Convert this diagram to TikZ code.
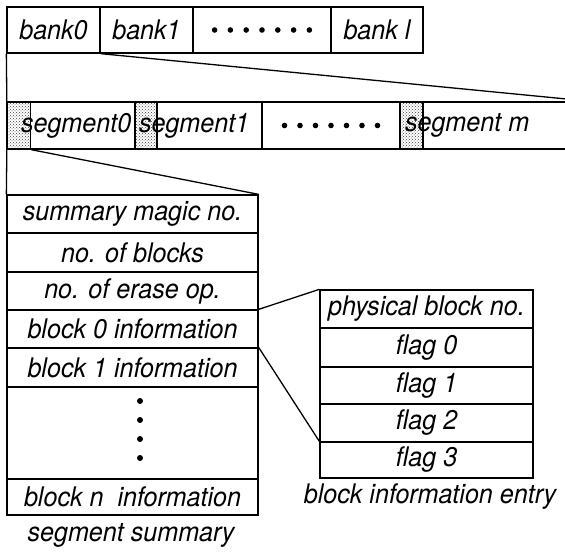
\documentclass[tikz,border=0pt]{standalone}
\usepackage{fontspec}
\setmainfont[FakeStretch=0.93]{TeX Gyre Heros}
\usetikzlibrary{patterns}
\begin{document}
\begin{tikzpicture}[x=1pt,y=-1pt,line width=1.3pt,
    font=\fontsize{27}{29}\selectfont\itshape,
    cell/.style={draw,inner sep=0pt,minimum height=38pt},
    hdr/.style={draw,inner sep=0pt,pattern=crosshatch dots,pattern color=black!75,
      minimum width=23pt,minimum height=47pt},
    txt/.style={inner sep=0pt}]
  \useasboundingbox (0,0) rectangle (565,552);
  \clip (0,0) rectangle (565,552);

  % banks
  \draw
    (53.5,30) node[cell,minimum width=93pt,minimum height=46pt] (bank0){bank0}
    (146.5,30) node[cell,minimum width=93pt,minimum height=46pt] (bank1){bank1}
    (262,30) node[cell,minimum width=138pt,minimum height=46pt] (bankdots){}
    (377,30) node[cell,minimum width=92pt,minimum height=46pt] (bankl){bank l};

  % segments, stippled part = segment header
  \draw
    (19,125.5) node[hdr] (hdr0){}
    (146,125.5) node[hdr,minimum width=22pt] (hdr1){}
    (411.5,125.5) node[hdr] (hdrm){}
    (71,125.5) node[cell,minimum width=128pt,minimum height=47pt] (seg0){}
    (198.5,125.5) node[cell,minimum width=127pt,minimum height=47pt] (seg1){}
    (331,125.5) node[cell,minimum width=138pt,minimum height=47pt] (segdots){}
    (495,125.5) node[cell,minimum width=190pt,minimum height=47pt] (segm){};
  \draw
    ([xshift=14pt]seg0.west) node[txt,anchor=west] (seg0txt){segment0}
    ([xshift=4pt]seg1.west) node[txt,anchor=west] (seg1txt){segment1}
    ([xshift=5pt]segm.west) node[txt,anchor=west] (segmtxt){segment m};

  \foreach \k in {-3,...,3} {
    \fill ([xshift=\k*15.8pt]bankdots.center) circle (2.8pt);
    \fill ([xshift=\k*15.5pt]segdots.center) circle (2.8pt);
  }

  % segment summary
  \draw
    (132.5,214) node[cell,minimum width=251pt] (magic){summary magic no.}
    (132.5,252.5) node[cell,minimum width=251pt,minimum height=39pt] (nblocks){no. of blocks}
    (132.5,291) node[cell,minimum width=251pt] (nerase){no. of erase op.}
    (132.5,329) node[cell,minimum width=251pt] (blk0){block 0 information}
    (132.5,367.5) node[cell,minimum width=251pt,minimum height=39pt] (blk1){block 1 information}
    (132.5,433) node[cell,minimum width=251pt,minimum height=92pt] (blkdots){}
    (132.5,497) node[cell,minimum width=251pt,minimum height=36pt] (blkn){block n\ \ information}
    (131,535) node[txt] (sumlabel){segment summary};
  \foreach \k in {0,...,3}
    \fill ([xshift=7.5pt,yshift={(32-19*\k)*1pt}]blkdots.center) circle (3pt);

  % block information entry
  \draw
    (426.5,309) node[cell,minimum width=213pt] (phys){physical block no.}
    (426.5,347.5) node[cell,minimum width=213pt,minimum height=39pt] (flag0){flag 0}
    (426.5,385.5) node[cell,minimum width=213pt,minimum height=37pt] (flag1){flag 1}
    (426.5,423) node[cell,minimum width=213pt] (flag2){flag 2}
    (426.5,460) node[cell,minimum width=213pt,minimum height=36pt] (flag3){flag 3}
    (430,497) node[txt] (entrylabel){block information entry};

  % zoom lines
  \begin{scope}[-]
    \draw (bank0.south west) to (hdr0.north west);
    \draw (bank0.south east) to (segm.north east);
    \draw (hdr0.south west) to (magic.north west);
    \draw (hdr0.south east) to (magic.north east);
    \draw (blk0.north east) to (phys.north west);
    \draw (blk1.north east) to (flag3.north west);
  \end{scope}
\end{tikzpicture}
\end{document}
